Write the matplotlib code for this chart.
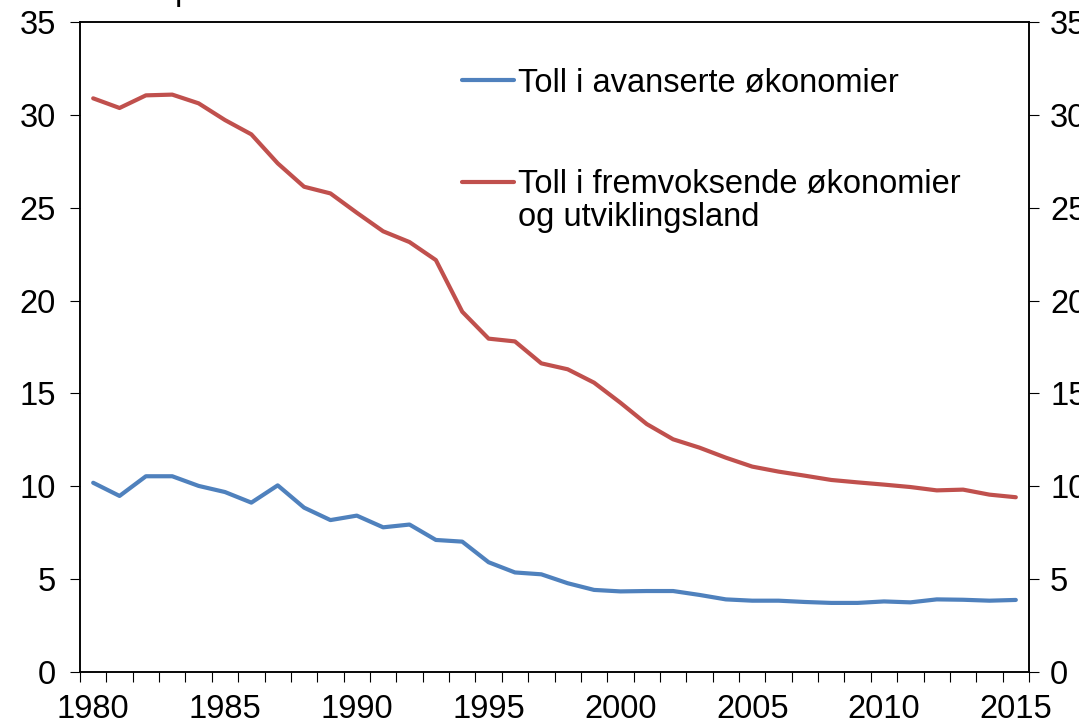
import matplotlib
matplotlib.use("Agg")
import matplotlib.pyplot as plt
from matplotlib.lines import Line2D

plt.rcParams['font.family'] = ['Liberation Sans', 'DejaVu Sans']

years = list(range(1980, 2016))
advanced = [10.19, 9.48, 10.54, 10.54, 10.02, 9.69, 9.12, 10.05, 8.85, 8.18,
            8.42, 7.79, 7.94, 7.11, 7.02, 5.91, 5.36, 5.26, 4.78, 4.42,
            4.34, 4.36, 4.36, 4.15, 3.91, 3.84, 3.84, 3.77, 3.72, 3.72,
            3.80, 3.75, 3.91, 3.89, 3.84, 3.88]
emerging = [30.89, 30.37, 31.05, 31.09, 30.62, 29.72, 28.95, 27.39, 26.13, 25.77,
            24.73, 23.73, 23.15, 22.18, 19.40, 17.95, 17.80, 16.62, 16.30, 15.58,
            14.50, 13.35, 12.53, 12.08, 11.54, 11.06, 10.79, 10.57, 10.34, 10.21,
            10.09, 9.96, 9.78, 9.82, 9.55, 9.41]
labels = ["Toll i avanserte økonomier",
          "Toll i fremvoksende økonomier\nog utviklingsland"]
yticks = [0, 5, 10, 15, 20, 25, 30, 35]

blue = "#4F81BD"
red = "#C0504D"
fs = 23.5

fig = plt.figure(figsize=(10.79, 7.24), dpi=100)
ax = fig.add_axes([80 / 1079, 52 / 724, 949 / 1079, 650 / 724])

idx = list(range(len(years)))
ax.plot(idx, advanced, color=blue, lw=3.0, solid_capstyle='round')
ax.plot(idx, emerging, color=red, lw=3.0, solid_capstyle='round')

ax.set_xlim(-0.5, len(years) - 0.5)
ax.set_ylim(0, 35)
ax.set_yticks(yticks)

# category boundaries as tick marks, year labels at category centres
ax.set_xticks([i - 0.5 for i in range(len(years) + 1)])
ax.set_xticklabels([])
lab_pos = [i for i, y in enumerate(years) if y % 5 == 0]
ax.set_xticks(lab_pos, minor=True)
ax.set_xticklabels([str(years[i]) for i in lab_pos], minor=True)
ax.tick_params(axis='x', which='major', direction='out', length=7.2, width=0.8)
ax.tick_params(axis='x', which='minor', length=0, pad=16, labelsize=fs)
ax.tick_params(axis='y', direction='out', length=7.2, width=0.8,
               labelsize=fs, pad=10)

# right-hand axis with the same scale
ax2 = ax.twinx()
ax2.set_ylim(0, 35)
ax2.set_yticks(yticks)
ax2.tick_params(axis='y', direction='out', length=7.2, width=0.8,
                labelsize=fs, pad=8)

for a in (ax, ax2):
    for s in a.spines.values():
        s.set_linewidth(1.1)

# legend drawn inside the plot
for y_line, y_txt, col, lab in [(0.9108, 0.8928, blue, labels[0]),
                                (0.7538, 0.6858, red, labels[1])]:
    ax.add_line(Line2D([0.4025, 0.4573], [y_line, y_line], transform=ax.transAxes,
                       color=col, lw=3.0, solid_capstyle='round'))
    ax.text(0.4615, y_txt, lab, transform=ax.transAxes, fontsize=fs,
            va='baseline', ha='left', linespacing=1.12)

fig.text(175 / 1079, 1.0, "prosent", fontsize=fs, va='baseline', ha='left')

fig.savefig("out.png", dpi=100)
